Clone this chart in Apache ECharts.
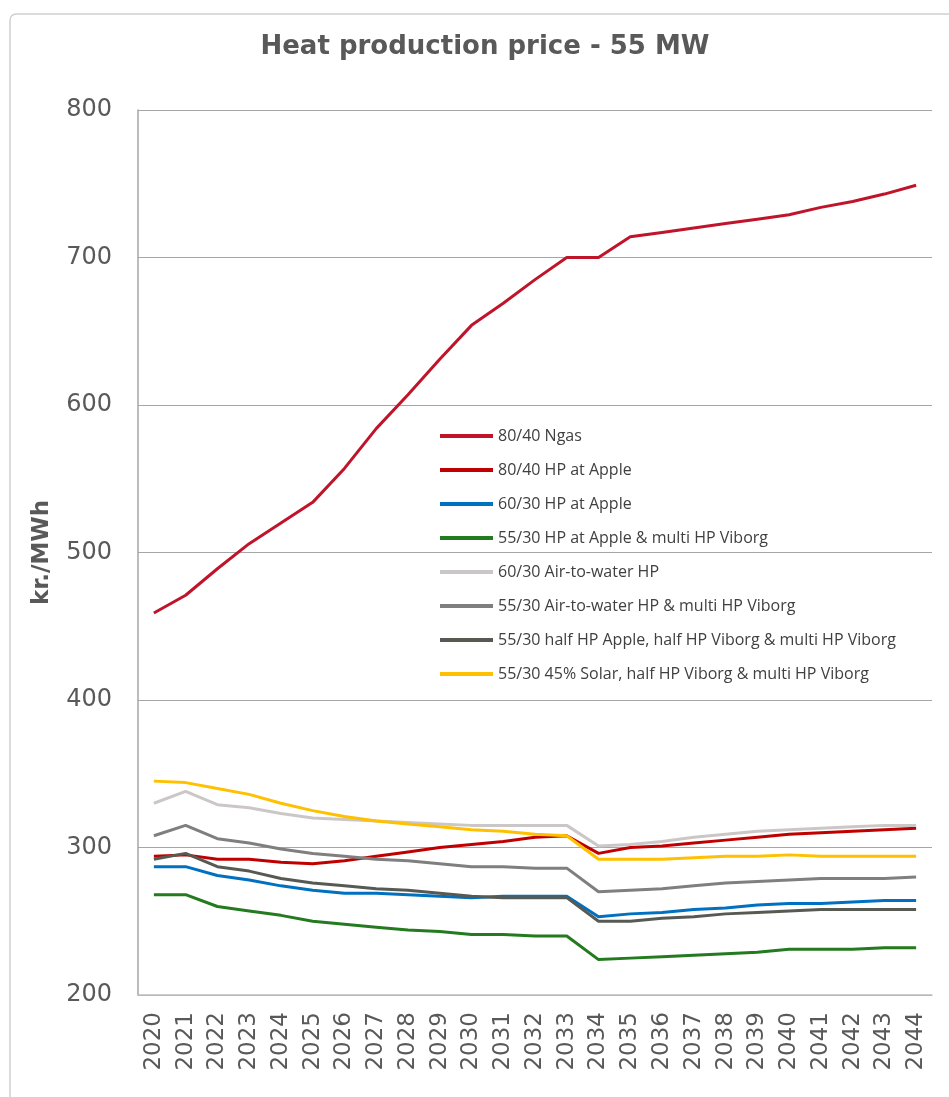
<!DOCTYPE html>
<html>
<head>
<meta charset="utf-8">
<script src="https://cdn.jsdelivr.net/npm/echarts@6/dist/echarts.min.js"></script>
<style>
  html, body { margin: 0; padding: 0; background: #fff; }
  #main { width: 949px; height: 1097px; }
</style>
</head>
<body>
<div id="main"></div>
<script>
// categories
const years = ['2020','2021','2022','2023','2024','2025','2026','2027','2028','2029','2030','2031','2032',
  '2033','2034','2035','2036','2037','2038','2039','2040','2041','2042','2043','2044'];

// series values (kr./MWh)
const ngas = [459, 471, 489, 506, 520, 534, 557, 584, 607, 631, 654, 669, 685, 700, 700, 714, 717, 720, 723, 726, 729, 734, 738, 743, 749];
const hpApple8040 = [294, 295, 292, 292, 290, 289, 291, 294, 297, 300, 302, 304, 307, 308, 296, 300, 301, 303, 305, 307, 309, 310, 311, 312, 313];
const hpApple6030 = [287, 287, 281, 278, 274, 271, 269, 269, 268, 267, 266, 267, 267, 267, 253, 255, 256, 258, 259, 261, 262, 262, 263, 264, 264];
const hpAppleMulti = [268, 268, 260, 257, 254, 250, 248, 246, 244, 243, 241, 241, 240, 240, 224, 225, 226, 227, 228, 229, 231, 231, 231, 232, 232];
const airWater = [330, 338, 329, 327, 323, 320, 319, 318, 317, 316, 315, 315, 315, 315, 301, 302, 304, 307, 309, 311, 312, 313, 314, 315, 315];
const airWaterMulti = [308, 315, 306, 303, 299, 296, 294, 292, 291, 289, 287, 287, 286, 286, 270, 271, 272, 274, 276, 277, 278, 279, 279, 279, 280];
const halfHalf = [292, 296, 287, 284, 279, 276, 274, 272, 271, 269, 267, 266, 266, 266, 250, 250, 252, 253, 255, 256, 257, 258, 258, 258, 258];
const solar = [345, 344, 340, 336, 330, 325, 321, 318, 316, 314, 312, 311, 309, 308, 292, 292, 292, 293, 294, 294, 295, 294, 294, 294, 294];

const seriesNames = [
  '80/40 Ngas',
  '80/40 HP at Apple',
  '60/30 HP at Apple',
  '55/30 HP at Apple & multi HP Viborg',
  '60/30 Air-to-water HP',
  '55/30 Air-to-water HP & multi HP Viborg',
  '55/30 half HP Apple, half HP Viborg & multi HP Viborg',
  '55/30 45% Solar, half HP Viborg & multi HP Viborg'
];
const seriesData = [ngas, hpApple8040, hpApple6030, hpAppleMulti, airWater, airWaterMulti, halfHalf, solar];
const colors = ['#C0142B', '#C00000', '#0070C0', '#247A1E', '#CCC7C7', '#7F7F7F', '#575A53', '#FFC000'];

const yTicks = { min: 200, max: 800, interval: 100 };

var chartDom = document.getElementById('main');
var myChart = echarts.init(chartDom);

var option = {
  animation: false,
  color: colors,
  title: {
    text: 'Heat production price - 55 MW',
    left: 480,
    textAlign: 'center',
    top: 29,
    textStyle: {
      fontFamily: 'DejaVu Sans',
      fontWeight: 'bold',
      fontSize: 26,
      color: '#595959'
    }
  },
  graphic: [
    {
      type: 'rect',
      shape: { x: 10, y: 14, width: 1000, height: 1200, r: 6 },
      style: { fill: 'none', stroke: '#D0D0D0', lineWidth: 1.5 },
      silent: true,
      z: -1
    }
  ],
  legend: {
    orient: 'vertical',
    left: 435,
    top: 423,
    itemGap: 18,
    itemWidth: 53,
    itemHeight: 4,
    icon: 'rect',
    textStyle: {
      fontFamily: 'Open Sans',
      fontSize: 16,
      color: '#404040'
    },
    data: seriesNames
  },
  grid: {
    left: 138,
    right: 17,
    top: 110,
    bottom: 102,
    containLabel: false
  },
  xAxis: {
    type: 'category',
    data: years,
    boundaryGap: true,
    axisLine: { lineStyle: { color: '#BFBFBF', width: 1.5 } },
    axisTick: { show: false },
    axisLabel: {
      rotate: 90,
      margin: 17,
      fontFamily: 'DejaVu Sans',
      fontSize: 23,
      color: '#595959',
      interval: 0
    }
  },
  yAxis: {
    type: 'value',
    min: yTicks.min,
    max: yTicks.max,
    interval: yTicks.interval,
    name: 'kr./MWh',
    nameLocation: 'middle',
    nameGap: 84,
    nameRotate: 90,
    nameTextStyle: {
      fontFamily: 'DejaVu Sans',
      fontWeight: 'bold',
      fontSize: 23,
      color: '#595959'
    },
    axisLine: { show: true, lineStyle: { color: '#A6A6A6', width: 1.5 } },
    axisTick: { show: false },
    axisLabel: {
      margin: 26,
      fontFamily: 'DejaVu Sans',
      fontSize: 24,
      color: '#595959'
    },
    splitLine: { lineStyle: { color: '#A6A6A6', width: 1 } }
  },
  series: seriesNames.map(function (name, i) {
    return {
      name: name,
      type: 'line',
      data: seriesData[i],
      symbol: 'none',
      lineStyle: { width: 3, color: colors[i] },
      itemStyle: { color: colors[i] }
    };
  })
};

option && myChart.setOption(option);
</script>
</body>
</html>
